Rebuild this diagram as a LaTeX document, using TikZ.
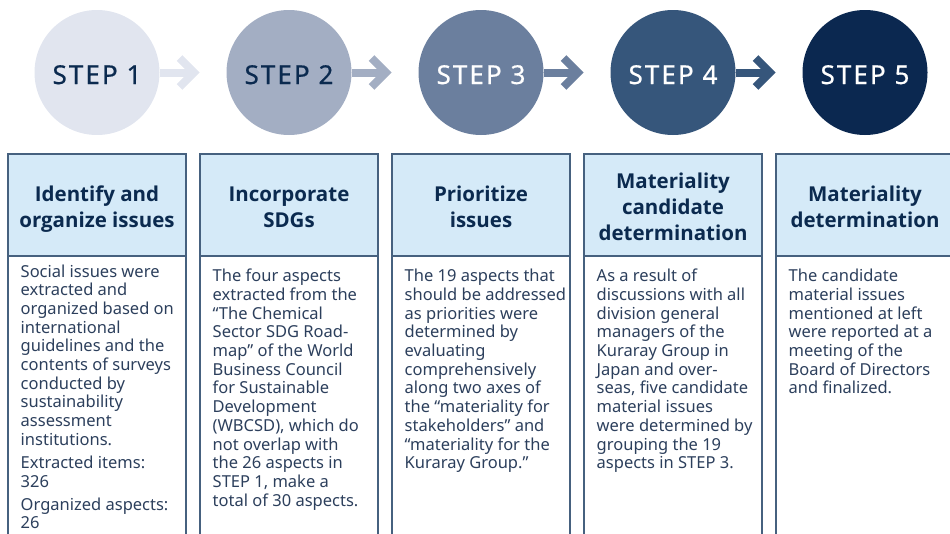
\documentclass[tikz,border=0pt]{standalone}
\usepackage{fontspec}
\setmainfont{Noto Sans}
\newfontfamily\hdrfont{Open Sans}
\newfontfamily\stepfont{Noto Sans}[FakeBold=0.6,LetterSpace=8]
\definecolor{cA}{HTML}{E1E5EF}
\definecolor{cB}{HTML}{A3AEC3}
\definecolor{cC}{HTML}{6B7F9E}
\definecolor{cD}{HTML}{36567B}
\definecolor{cE}{HTML}{0B2850}
\definecolor{navy}{HTML}{0B2A4F}
\definecolor{bodytxt}{HTML}{2C3F5C}
\definecolor{hdrfill}{HTML}{D5EAF8}
\definecolor{border}{HTML}{46617F}
\tikzset{
  stepcircle/.style={circle, minimum size=125pt, inner sep=0pt, draw=none},
  steplabel/.style={anchor=base, inner sep=0pt, font=\stepfont\fontsize{26}{30}\selectfont},
  hdrbox/.style={fill=hdrfill, draw=border, line width=1.4pt},
  bodybox/.style={draw=border, line width=1.4pt},
  hdrtext/.style={anchor=base, inner sep=0pt, text=navy, font=\hdrfont\bfseries\fontsize{20.5}{26}\selectfont},
  bodytext/.style={anchor=base west, inner sep=0pt, text=bodytxt, font=\fontsize{16.5}{18.7}\selectfont},
  shaft/.style={line width=8pt},
  chevron/.style={line width=8pt, line join=miter, line cap=butt},
}
\newcommand{\hdr}[1]{\parbox[t]{178pt}{\centering #1}}
\newcommand{\bdy}[1]{\parbox[t]{172pt}{\raggedright #1}}
\begin{document}
\begin{tikzpicture}[x=1pt,y=-1pt]
\useasboundingbox (0,0) rectangle (950,533);
\clip (0,0) rectangle (950,533);
% circles
\foreach \i/\c in {1/cA,2/cB,3/cC,4/cD,5/cE}{
  \node[stepcircle, fill=\c] (c\i) at ({97+192*(\i-1)},72.5) {};
}
\node[steplabel, text=navy] (s1) at (97,84) {STEP 1};
\node[steplabel, text=navy] (s2) at (289,84) {STEP 2};
\node[steplabel, text=white] (s3) at (481,84) {STEP 3};
\node[steplabel, text=white] (s4) at (673,84) {STEP 4};
\node[steplabel, text=white] (s5) at (865,84) {STEP 5};
% arrows
\foreach \i/\c in {1/cA,2/cB,3/cC,4/cD}{
  \coordinate (t\i) at ({97+192*(\i-1)+97},72.5);
  \draw[shaft, \c] (c\i.east) -- ([xshift=-3pt]t\i);
  \draw[chevron, \c] ([xshift=-14.5pt,yshift=14.5pt]t\i) -- (t\i) -- ([xshift=-14.5pt,yshift=-14.5pt]t\i);
}
% boxes
\foreach \i in {1,...,5}{
  \pgfmathsetmacro{\L}{8+192*(\i-1)}
  \pgfmathsetmacro{\R}{186+192*(\i-1)}
  \draw[bodybox] (\L,256) rectangle (\R,600);
  \draw[hdrbox] (\L,154) rectangle (\R,256);
}
% headers
\node[hdrtext] (h1) at (97,201.7) {\hdr{Identify and\\organize issues}};
\node[hdrtext] (h2) at (289,201.7) {\hdr{Incorporate\\SDGs}};
\node[hdrtext] (h3) at (481,201.7) {\hdr{Prioritize\\issues}};
\node[hdrtext] (h4) at (673,188.3) {\hdr{Materiality\\candidate\\determination}};
\node[hdrtext] (h5) at (865,201.7) {\hdr{Materiality\\determination}};
% bodies
\node[bodytext] (b1) at (20.5,277) {\bdy{Social issues were\\extracted and\\organized based on\\international\\guidelines and the\\contents of surveys\\conducted by\\sustainability\\assessment\\institutions.\\[4.3pt]Extracted items:\\326\\[4.3pt]Organized aspects:\\26}};
\node[bodytext] (b2) at (212.5,281.7) {\bdy{The four aspects\\extracted from the\\“The Chemical\\Sector SDG Road-\\map” of the World\\Business Council\\for Sustainable\\Development\\(WBCSD), which do\\not overlap with\\the 26 aspects in\\STEP 1, make a\\total of 30 aspects.}};
\node[bodytext] (b3) at (404.5,281.7) {\bdy{The 19 aspects that\\should be addressed\\as priorities were\\determined by\\evaluating\\comprehensively\\along two axes of\\the “materiality for\\stakeholders” and\\“materiality for the\\Kuraray Group.”}};
\node[bodytext] (b4) at (596.5,281.7) {\bdy{As a result of\\discussions with all\\division general\\managers of the\\Kuraray Group in\\Japan and over-\\seas, five candidate\\material issues\\were determined by\\grouping the 19\\aspects in STEP 3.}};
\node[bodytext] (b5) at (788.5,281.7) {\bdy{The candidate\\material issues\\mentioned at left\\were reported at a\\meeting of the\\Board of Directors\\and finalized.}};
\end{tikzpicture}
\end{document}
